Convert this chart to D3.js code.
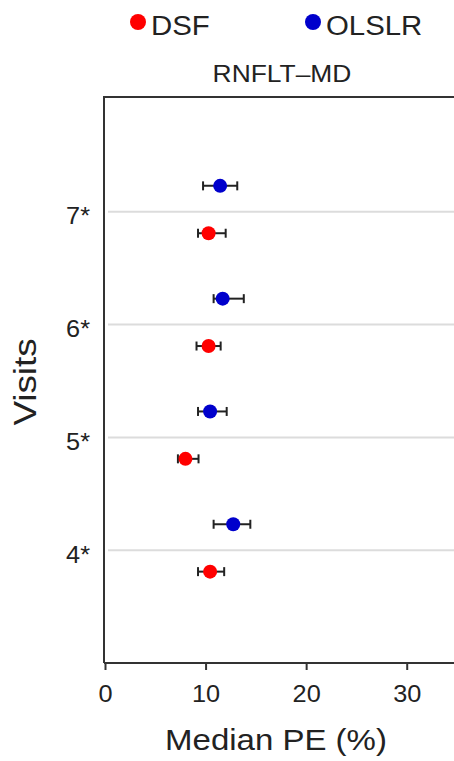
<!DOCTYPE html>
<html><head><meta charset="utf-8">
<script src="https://cdn.jsdelivr.net/npm/d3@7"></script>
<style>body{margin:0;background:#fff}svg{display:block}text{font-family:"Liberation Sans",Arial,sans-serif;fill:#222}</style>
</head><body>
<script>
const visits = [4, 5, 6, 7];
const visitLabels = ["4*", "5*", "6*", "7*"];
const dsfMedian = [10.45, 8.0, 10.3, 10.3];
const dsfLow = [9.25, 7.25, 9.1, 9.25];
const dsfHigh = [11.85, 9.3, 11.5, 12.0];
const olslrMedian = [12.75, 10.45, 11.7, 11.45];
const olslrLow = [10.8, 9.25, 10.8, 9.75];
const olslrHigh = [14.45, 12.1, 13.8, 13.15];
const xTicks = [0, 10, 20, 30];
const seriesNames = ["DSF", "OLSLR"];
const seriesColors = ["#ff0000", "#0000cc"];
const title = "RNFLT\u2013MD";
const xLabel = "Median PE (%)";
const yLabel = "Visits";

const W = 454, H = 761, SX = 1.1;
const svg = d3.select("body").append("svg").attr("width", W).attr("height", H);
const x = d3.scaleLinear().domain([0, 35]).range([105, 457]);
const y = d3.scaleLinear().domain([3, 8]).range([663, 99]);
const offsets = [-0.19, 0.23]; // DSF below, OLSLR above each visit line

// gridlines
svg.append("g").selectAll("line").data(visits).join("line")
  .attr("x1", 108).attr("x2", W).attr("y1", d => y(d)).attr("y2", d => y(d))
  .attr("stroke", "#dcdcdc").attr("stroke-width", 2);

// top frame
svg.append("line").attr("x1", 104).attr("x2", W).attr("y1", 97).attr("y2", 97)
  .attr("stroke", "#333").attr("stroke-width", 2);

// x axis
const xa = svg.append("g").attr("transform", `translate(0,${y(3)})`)
  .call(d3.axisBottom(x).tickValues(xTicks).tickSize(7).tickPadding(10).tickSizeOuter(0));
xa.select(".domain").attr("stroke", "#333").attr("stroke-width", 2);
xa.selectAll(".tick line").attr("stroke", "#333").attr("stroke-width", 2);
xa.selectAll(".tick text").style("font-size", "23px").attr("fill", "#222")
  .attr("transform", `scale(${SX},1)`).attr("dy", "0.95em");
xa.select(".domain").attr("d", `M${x(0)-1},0H${W}`);

// y axis
const ya = svg.append("g").attr("transform", `translate(${x(0)-1},0)`)
  .call(d3.axisLeft(y).tickValues(visits).tickFormat((d, i) => visitLabels[i]).tickSize(0).tickPadding(0).tickSizeOuter(0));
ya.select(".domain").attr("stroke", "#333").attr("stroke-width", 2).attr("d", `M0,${y(3)}V96`);
ya.selectAll(".tick text").style("font-size", "23px").attr("fill", "#222")
  .attr("x", -14 / SX).attr("dy", "0.52em").attr("transform", `scale(${SX},1)`);

// series
const series = [
  {name: seriesNames[0], color: seriesColors[0], med: dsfMedian, lo: dsfLow, hi: dsfHigh, off: offsets[0]},
  {name: seriesNames[1], color: seriesColors[1], med: olslrMedian, lo: olslrLow, hi: olslrHigh, off: offsets[1]}
];
series.forEach(s => {
  const data = visits.map((v, i) => ({v, m: s.med[i], lo: s.lo[i], hi: s.hi[i]}));
  const g = svg.append("g");
  g.selectAll(".eb").data(data).join("line")
    .attr("x1", d => x(d.lo)).attr("x2", d => x(d.hi))
    .attr("y1", d => y(d.v + s.off)).attr("y2", d => y(d.v + s.off))
    .attr("stroke", "#222").attr("stroke-width", 2);
  ["lo", "hi"].forEach(k => {
    g.selectAll(".cap" + k).data(data).join("line")
      .attr("x1", d => x(d[k])).attr("x2", d => x(d[k]))
      .attr("y1", d => y(d.v + s.off) - 4.5).attr("y2", d => y(d.v + s.off) + 4.5)
      .attr("stroke", "#222").attr("stroke-width", 2);
  });
  g.selectAll("circle").data(data).join("circle")
    .attr("cx", d => x(d.m)).attr("cy", d => y(d.v + s.off)).attr("r", 7)
    .attr("fill", s.color);
});

// legend
const legX = [138, 313];
const lg = svg.append("g");
series.forEach((s, i) => {
  lg.append("circle").attr("cx", legX[i]).attr("cy", 22).attr("r", 8).attr("fill", s.color);
  lg.append("text").attr("transform", `translate(${legX[i] + 13},35) scale(1.05,1)`)
    .style("font-size", "28px").text(s.name);
});

// title
svg.append("text").attr("transform", `translate(282,82) scale(${SX},1)`)
  .attr("text-anchor", "middle").style("font-size", "24px").text(title);

// axis labels
svg.append("text").attr("transform", `translate(276,750) scale(${SX},1)`)
  .attr("text-anchor", "middle").style("font-size", "30px").text(xLabel);
svg.append("text").attr("transform", `translate(36,382) rotate(-90) scale(1.15,1)`)
  .attr("text-anchor", "middle").style("font-size", "32px").text(yLabel);
</script>
</body></html>
